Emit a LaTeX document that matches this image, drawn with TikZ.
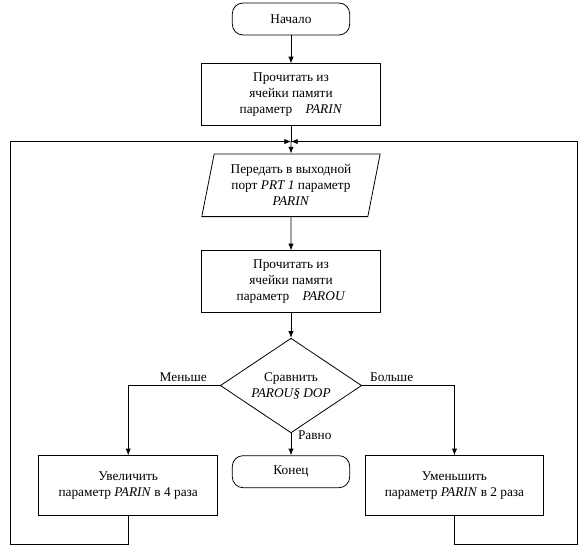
\documentclass[tikz,border=0pt]{standalone}
\usepackage{fontspec}
\setmainfont{Liberation Serif}
\usetikzlibrary{
    shapes,
    positioning,
    arrows.meta,
}
\tikzset{
    node distance=20pt,
    terminal/.style={rectangle, rounded corners=8pt, draw, text centered, minimum height=24pt, minimum width=88pt, align=center},
    process/.style={rectangle, draw, text centered, minimum height=46pt, minimum width=134pt, align=center},
    io/.style={trapezium, trapezium left angle=79, trapezium right angle=101, trapezium stretches=true, draw, text centered, minimum height=47pt, minimum width=134pt, align=center, inner xsep=0pt},
    decision/.style={diamond, draw, text centered, minimum height=71pt, minimum width=106pt, inner sep=0pt, aspect=1.5, align=center},
    branch/.style={inner sep=3pt},
    flow/.style={-{Latex[length=5pt, width=4pt]}},
}

\begin{document}
\begin{tikzpicture}[semithick]
    \useasboundingbox (0,0) rectangle (439.5pt,-408.75pt);

    \node[terminal] (start) at (218.25pt,-14.25pt) {Начало};

    \node[process, below=21pt of start] (readin) {Прочитать из\\ячейки памяти\\параметр\quad\textit{PARIN}};
    \coordinate[below=12pt of readin] (loopin);

    \node[io, below=21pt of readin] (output) {Передать в выходной\\порт \textit{PRT 1} параметр\\\textit{PARIN}};
    \node[process, below=25pt of output] (readout) {Прочитать из\\ячейки памяти\\параметр\quad\textit{PAROU}};

    \node[decision, below=19pt of readout] (compare) {Сравнить\\\textit{PAROU\S\ DOP}};

    \node[terminal, below=16.5pt of compare] (finish) {Конец};
    \node[process, left=10.5pt of finish.north west, anchor=north east, minimum height=45pt] (increase) {Увеличить\\параметр \textit{PARIN} в 4 раза};
    \node[process, right=11pt of finish.north east, anchor=north west, minimum height=45pt] (decrease) {Уменьшить\\параметр \textit{PARIN} в 2 раза};

    \coordinate[below=21pt of increase] (leftdown);
    \coordinate[below=21pt of decrease] (rightdown);
    \coordinate[left=210.75pt of loopin] (leftup);
    \coordinate[right=214.5pt of loopin] (rightup);

    % ===== DRAW ALL CONNECTIONS =====
    \draw[flow] (start) -- (readin);
    \draw (readin) -- (loopin);
    \draw[flow] (loopin) -- (output);
    \draw[flow] (output) -- (readout);
    \draw[flow] (readout) -- (compare);

    \draw[flow] (compare.west) -| node[branch, above, pos=0.2] {Меньше} (increase);
    \draw[flow] (compare.east) -| node[branch, above, pos=0.16] {Больше} (decrease);
    \draw[flow] (compare.south) -- node[branch, right, pos=0.1, xshift=2pt] {Равно} (finish);

    \draw[flow] (increase) -- (leftdown) -| (leftup) -- (loopin);
    \draw[flow] (decrease) -- (rightdown) -| (rightup) -- (loopin);

\end{tikzpicture}
\end{document}
